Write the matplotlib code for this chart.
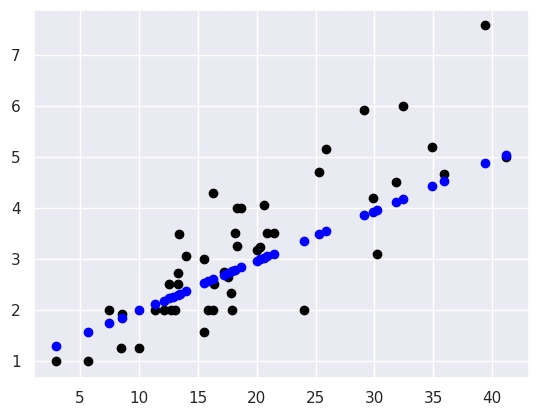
import matplotlib
matplotlib.use("Agg")
import matplotlib.pyplot as plt
import seaborn as sns

sns.set_theme()

bill = [3.0,5.7,7.5,8.6,8.5,10.0,11.4,12.1,12.6,12.7,13.1,13.3,13.3,13.4,14.0,15.5,15.5,15.9,16.3,16.3,16.4,17.2,17.6,17.8,17.9,18.2,18.3,18.3,18.7,20.0,20.3,20.6,20.9,21.5,24.0,25.3,25.9,29.1,29.9,30.2,31.8,32.4,34.9,35.9,39.4,41.2]
tip = [1.0,1.0,2.0,1.92,1.25,1.25,2.0,2.0,2.5,2.0,2.0,2.5,2.73,3.48,3.06,3.0,1.57,2.0,2.0,4.3,2.5,2.75,2.64,2.34,2.0,3.5,3.25,4.0,4.0,3.18,3.23,4.06,3.5,3.5,2.0,4.71,5.16,5.92,4.19,3.09,4.5,6.0,5.2,4.67,7.58,5.0]

pred_x = [3.0,5.7,7.5,8.6,10.0,11.4,12.1,12.6,12.9,13.3,13.5,14.0,15.5,15.9,16.3,17.2,17.6,17.9,18.2,18.7,20.0,20.3,20.6,20.9,21.5,24.0,25.3,25.9,29.1,29.9,30.2,31.8,32.4,34.9,35.9,39.4,41.2]
pred_y = [1.3,1.57,1.75,1.85,1.99,2.12,2.18,2.24,2.26,2.3,2.32,2.37,2.52,2.56,2.6,2.69,2.73,2.76,2.79,2.84,2.96,2.99,3.02,3.05,3.1,3.35,3.48,3.54,3.86,3.93,3.96,4.12,4.17,4.43,4.53,4.88,5.04]

fig = plt.figure(figsize=(5.38, 4.17), dpi=100)
ax = fig.add_axes([0.063, 0.094, 0.92, 0.882])
ax.scatter(bill, tip, color="black")
ax.scatter(pred_x, pred_y, color="blue")
ax.set_xlim(1.1, 43.1)
ax.set_ylim(0.67, 7.88)
ax.set_yticks([1,2,3,4,5,6,7])
fig.savefig("out.png")
